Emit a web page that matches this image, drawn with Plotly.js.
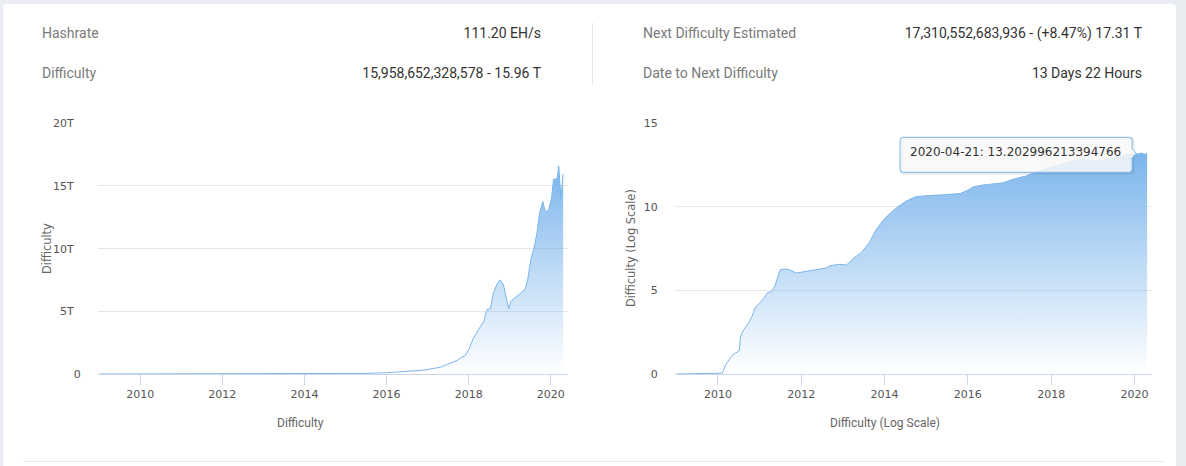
<!DOCTYPE html>
<html>
<head>
<meta charset="utf-8">
<script src="https://cdn.plot.ly/plotly-3.0.1.min.js"></script>
<style>
html,body{margin:0;padding:0;width:1186px;height:466px;overflow:hidden;background:#e9ecf0;}
#card{position:absolute;left:3px;top:4px;width:1173px;height:520px;background:#fff;border-radius:4px;}
.t{position:absolute;font-family:Roboto,sans-serif;font-size:14px;line-height:16px;white-space:nowrap;}
.lab{color:#7a7a7a;}
.val{color:#333;}
#divider{position:absolute;left:592px;top:23px;width:1px;height:61px;background:#e6e6e6;}
#bottomline{position:absolute;left:23px;top:461px;width:1140px;height:1px;background:#e6e6e6;}
#chart{position:absolute;left:0;top:0;width:1186px;height:466px;}
</style>
</head>
<body>
<div id="card"></div>
<div class="t lab" style="left:42px;top:25px;">Hashrate</div>
<div class="t val" style="right:645px;top:25px;">111.20 EH/s</div>
<div class="t lab" style="left:42px;top:65px;">Difficulty</div>
<div class="t val" style="right:645px;top:65px;">15,958,652,328,578 - 15.96 T</div>
<div id="divider"></div>
<div class="t lab" style="left:643px;top:25px;">Next Difficulty Estimated</div>
<div class="t val" style="right:44px;top:25px;">17,310,552,683,936 - (+8.47%) 17.31 T</div>
<div class="t lab" style="left:643px;top:65px;">Date to Next Difficulty</div>
<div class="t val" style="right:44px;top:65px;">13 Days 22 Hours</div>
<div id="bottomline"></div>
<div id="chart"></div>
<script>
// ---- Data ----
const linDates = [
  '2009-01-03','2011-01-01','2013-01-01','2014-01-01','2014-07-01','2015-01-01','2015-07-01',
  '2016-01-01','2016-07-01','2016-12-01','2017-02-15','2017-04-23','2017-07-20','2017-09-20',
  '2017-11-02','2017-12-01','2018-01-01','2018-02-14','2018-03-29','2018-05-15','2018-06-13',
  '2018-07-13','2018-08-10','2018-09-09','2018-10-08','2018-11-06','2018-11-28','2018-12-24',
  '2019-01-11','2019-02-20','2019-04-05','2019-05-18','2019-06-10','2019-07-09','2019-08-07',
  '2019-09-02','2019-09-24','2019-10-23','2019-11-14','2019-12-13','2020-01-08','2020-01-26',
  '2020-02-28','2020-03-13','2020-04-01','2020-04-21'
];
const linDifficultyT = [
  0, 0, 0.000003, 0.0011, 0.017, 0.04, 0.05,
  0.10, 0.21, 0.31, 0.44, 0.54, 0.86, 1.07,
  1.35, 1.45, 1.93, 2.87, 3.53, 4.2, 5.14,
  5.2, 6.48, 7.15, 7.5, 7.15, 6.21, 5.2,
  5.8, 6.13, 6.43, 6.75, 7.5, 9.16, 10.1,
  11.3, 12.85, 13.76, 12.96, 13.04, 14.0, 15.53,
  15.58, 16.6, 14.03, 15.96
];
const logDates = [
  '2009-01-03','2010-02-10','2010-03-08','2010-04-05','2010-05-05','2010-06-03','2010-07-08',
  '2010-07-18','2010-08-15','2010-09-25','2010-10-27','2010-11-22','2011-01-05','2011-02-10',
  '2011-03-08','2011-04-15','2011-05-15','2011-06-13','2011-07-01','2011-08-08','2011-09-20',
  '2011-11-18','2012-01-30','2012-05-10','2012-08-03','2012-09-10','2012-11-30','2013-02-01',
  '2013-04-08','2013-06-13','2013-08-18','2013-10-20','2013-12-25','2014-03-01','2014-05-05',
  '2014-07-08','2014-09-27','2015-01-22','2015-06-03','2015-10-27','2016-01-01','2016-02-18',
  '2016-05-27','2016-11-07','2017-02-14','2017-05-22','2017-09-12','2017-12-20','2018-04-01',
  '2018-07-01','2018-10-10','2019-01-01','2019-04-15','2019-07-01','2019-10-01','2020-01-10',
  '2020-03-09','2020-03-26','2020-04-21'
];
const logDifficulty = [
  0, 0.05, 0.54, 0.84, 1.1, 1.24, 1.4,
  2.24, 2.64, 3.04, 3.44, 3.94, 4.24, 4.54,
  4.84, 4.94, 5.24, 5.94, 6.24, 6.28, 6.24,
  6.04, 6.14, 6.24, 6.34, 6.48, 6.56, 6.52,
  6.94, 7.28, 7.84, 8.64, 9.24, 9.68, 10.04,
  10.34, 10.6, 10.68, 10.72, 10.8, 11.0, 11.2,
  11.32, 11.44, 11.68, 11.84, 12.14, 12.36, 12.55,
  12.72, 12.87, 12.75, 12.8, 12.95, 13.1, 13.15,
  13.22, 13.14, 13.2
];
const linTickVals = [0, 5, 10, 15, 20];
const linTickText = ['0', '5T\u00a0\u00a0', '10T\u00a0\u00a0', '15T\u00a0\u00a0', '20T\u00a0\u00a0'];
const logTickVals = [0, 5, 10, 15];
const logTickText = ['0', '5', '10', '15'];
const tooltipDate = '2020-04-21';
const tooltipValue = 13.202996213394766;
const tooltipText = '2020-04-21: 13.202996213394766';

// ---- Styles ----
const blue = '#7cb5ec';
const grad = {type: 'vertical', colorscale: [[0, 'rgba(124,181,236,0)'], [1, 'rgba(124,181,236,1)']]};
const tickFont = {family: 'DejaVu Sans', size: 11, color: '#555'};
const xRange = ['2008-12-21', '2020-06-03'];
const yDom = [0.1974, 0.7354];

function xAxis(domain, anchor) {
  return {
    domain: domain, anchor: anchor, type: 'date', range: xRange,
    tickmode: 'linear', tick0: '2010-01-01', dtick: 'M24', tickformat: '%Y',
    showgrid: false, zeroline: false, showline: true, linecolor: '#ccd6eb', linewidth: 1,
    ticks: 'outside', ticklen: 10, tickcolor: '#ccd6eb', tickwidth: 1,
    tickfont: tickFont, fixedrange: true
  };
}
function yAxis(range, vals, text, anchor) {
  return {
    domain: yDom, anchor: anchor, range: range, tickmode: 'array', tickvals: vals, ticktext: text,
    showgrid: true, gridcolor: '#e6e6e6', gridwidth: 1, zeroline: false, showline: false,
    ticks: 'outside', ticklen: 14, tickcolor: 'rgba(0,0,0,0)', tickfont: tickFont, fixedrange: true
  };
}

const traces = [
  {x: linDates, y: linDifficultyT, type: 'scatter', mode: 'lines', xaxis: 'x', yaxis: 'y',
   line: {color: blue, width: 1}, fill: 'tozeroy', fillgradient: grad, hoverinfo: 'skip'},
  {x: logDates, y: logDifficulty, type: 'scatter', mode: 'lines', xaxis: 'x2', yaxis: 'y2',
   line: {color: blue, width: 1}, fill: 'tozeroy', fillgradient: grad, hoverinfo: 'skip'}
];

// tooltip callout (pixel-sized, anchored at the hovered point)
const L = -247, R = -15, T = 16, B = -19;
const calloutPath = `M${L+3},${T} L${R-3},${T} Q${R},${T} ${R},${T-3} L${R},5 L${R+4},0 L${R},-5 L${R},${B+3} Q${R},${B} ${R-3},${B} L${L+3},${B} Q${L},${B} ${L},${B+3} L${L},${T-3} Q${L},${T} ${L+3},${T} Z`;
const shadowPath = `M${L+4},${T-1} L${R-2},${T-1} Q${R+1},${T-1} ${R+1},${T-4} L${R+1},${B+2} Q${R+1},${B-1} ${R-2},${B-1} L${L+4},${B-1} Q${L+1},${B-1} ${L+1},${B+2} Z`;

const layout = {
  width: 1186, height: 466, margin: {l: 0, r: 0, t: 0, b: 0},
  paper_bgcolor: 'rgba(0,0,0,0)', plot_bgcolor: 'rgba(0,0,0,0)',
  showlegend: false, hovermode: false,
  xaxis: xAxis([98/1186, 568/1186], 'y'),
  yaxis: yAxis([0, 20], linTickVals, linTickText, 'x'),
  xaxis2: xAxis([675/1186, 1152/1186], 'y2'),
  yaxis2: yAxis([0, 15], logTickVals, logTickText, 'x2'),
  shapes: [
    {type: 'path', xref: 'x2', yref: 'y2', xsizemode: 'pixel', ysizemode: 'pixel',
     xanchor: tooltipDate, yanchor: tooltipValue, path: shadowPath,
     fillcolor: 'rgba(0,0,0,0)', line: {color: 'rgba(0,0,0,0.08)', width: 3}, layer: 'above'},
    {type: 'path', xref: 'x2', yref: 'y2', xsizemode: 'pixel', ysizemode: 'pixel',
     xanchor: tooltipDate, yanchor: tooltipValue, path: calloutPath,
     fillcolor: 'rgba(248,248,248,0.85)', line: {color: blue, width: 1}, layer: 'above'}
  ],
  annotations: [
    {xref: 'x2', yref: 'y2', x: tooltipDate, y: tooltipValue, text: tooltipText, showarrow: false,
     xanchor: 'left', yanchor: 'middle', xshift: -239, yshift: 1,
     font: {family: 'DejaVu Sans', size: 12, color: '#333'}},
    {xref: 'paper', yref: 'paper', x: 47.5/1186, y: 1 - 248.5/466, text: 'Difficulty', textangle: -90,
     showarrow: false, xanchor: 'center', yanchor: 'middle', font: {family: 'DejaVu Sans', size: 11.4, color: '#666'}},
    {xref: 'paper', yref: 'paper', x: 631.6/1186, y: 1 - 248.5/466, text: 'Difficulty (Log Scale)', textangle: -90,
     showarrow: false, xanchor: 'center', yanchor: 'middle', font: {family: 'DejaVu Sans', size: 11.4, color: '#666'}},
    {xref: 'paper', yref: 'paper', x: 300/1186, y: 1 - 422.5/466, text: 'Difficulty',
     showarrow: false, xanchor: 'center', yanchor: 'middle', font: {family: 'Roboto', size: 12, color: '#666'}},
    {xref: 'paper', yref: 'paper', x: 885/1186, y: 1 - 422.5/466, text: 'Difficulty (Log Scale)',
     showarrow: false, xanchor: 'center', yanchor: 'middle', font: {family: 'Roboto', size: 12, color: '#666'}}
  ]
};

Plotly.newPlot('chart', traces, layout, {displayModeBar: false, staticPlot: true});
</script>
</body>
</html>
